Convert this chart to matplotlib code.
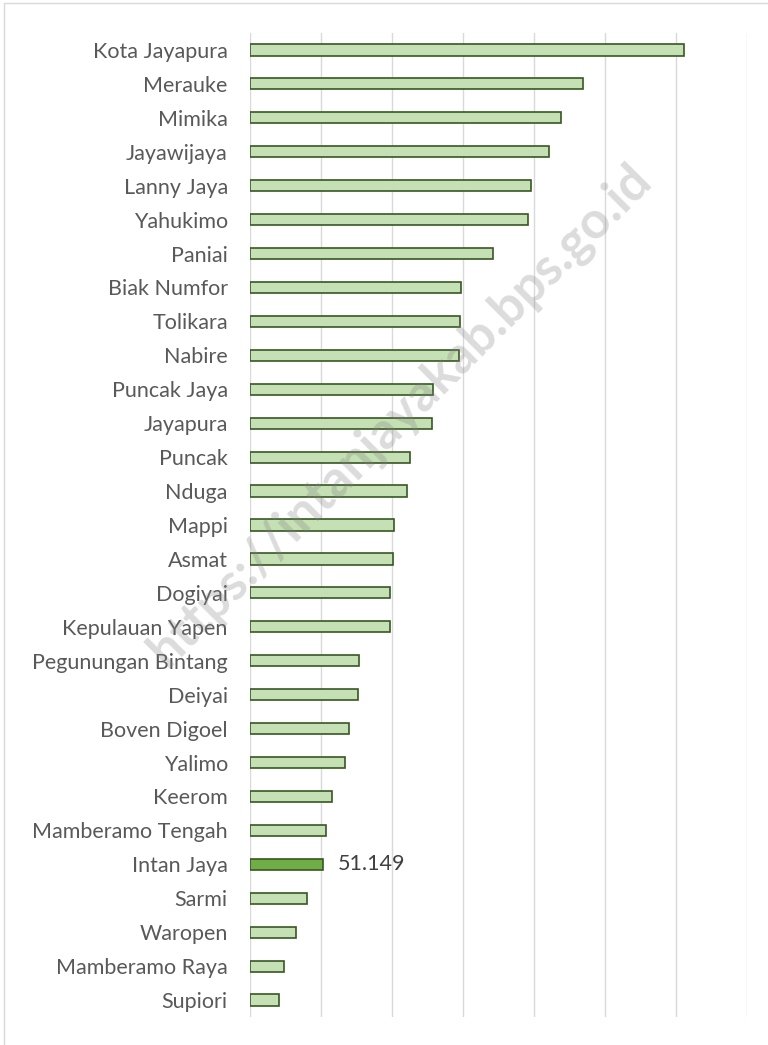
import matplotlib
matplotlib.use("Agg")
import matplotlib.pyplot as plt
from matplotlib.patches import Rectangle

regions = ["Kota Jayapura", "Merauke", "Mimika", "Jayawijaya", "Lanny Jaya",
           "Yahukimo", "Paniai", "Biak Numfor", "Tolikara", "Nabire",
           "Puncak Jaya", "Jayapura", "Puncak", "Nduga", "Mappi", "Asmat",
           "Dogiyai", "Kepulauan Yapen", "Pegunungan Bintang", "Deiyai",
           "Boven Digoel", "Yalimo", "Keerom", "Mamberamo Tengah",
           "Intan Jaya", "Sarmi", "Waropen", "Mamberamo Raya", "Supiori"]
values = [305.4, 234.4, 218.7, 210.7, 198.0, 195.7, 171.0, 148.7, 147.8,
          147.3, 128.7, 128.3, 112.5, 110.9, 101.5, 101.0, 98.7, 98.4,
          76.6, 75.9, 69.8, 67.0, 58.0, 53.6, 51.149, 40.2, 32.4, 24.2, 20.7]
highlight = "Intan Jaya"
highlight_label = "51.149"
xticks = [0, 50, 100, 150, 200, 250, 300, 350]

plt.rcParams['font.family'] = ['Lato', 'DejaVu Sans']

fig = plt.figure(figsize=(7.68, 10.45), dpi=100)
fig.patch.set_facecolor('white')
# outer frame
fig.patches.append(Rectangle((4/768, -0.01), 1.0, 1 - 3/1045 + 0.01,
                             transform=fig.transFigure, fill=False,
                             edgecolor='#d9d9d9', linewidth=1.0))

ax = fig.add_axes([250/768, 1 - 1017/1045, (747 - 250)/768, (1017 - 33)/1045])
ypos = list(range(len(regions)))
colors = ['#70ad47' if r == highlight else '#c5e0b4' for r in regions]
ax.barh(ypos, values, height=0.33, color=colors, edgecolor='#385723',
        linewidth=1.2, zorder=3)

hi = regions.index(highlight)
ax.text(values[hi] + 11, hi, highlight_label, va='center', ha='left',
        fontsize=15.5, color='#404040')

ax.set_xlim(0, 350)
ax.set_ylim(len(regions) - 0.5, -0.5)
ax.set_xticks(xticks)
ax.set_xticklabels([])
ax.set_yticks(ypos)
ax.set_yticklabels(regions, fontsize=15.5, color='#595959')
ax.tick_params(axis='both', length=0)
ax.tick_params(axis='y', pad=16)
ax.grid(axis='x', color='#d9d9d9', linewidth=1.0, zorder=0)
for s in ax.spines.values():
    s.set_visible(False)

fig.text(400/768, 1 - 415/1045, "https://intanjayakab.bps.go.id",
         rotation=45, fontsize=37, fontweight='bold', color='#808080',
         alpha=0.28, ha='center', va='center', zorder=10)

fig.savefig("out.png", dpi=100)
